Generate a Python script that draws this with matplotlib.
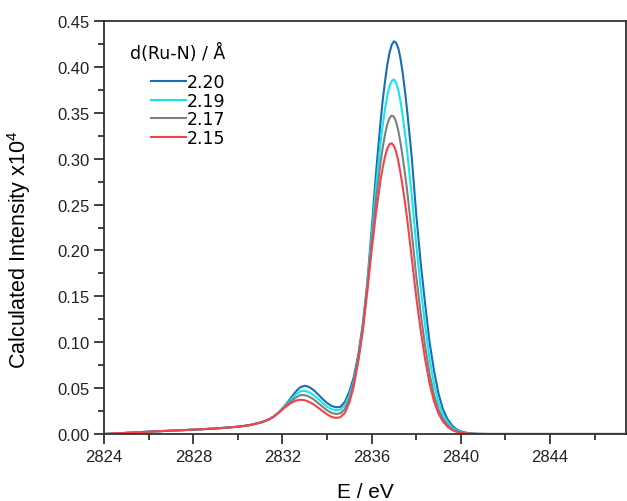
import matplotlib
matplotlib.use('Agg')
import matplotlib.pyplot as plt
from matplotlib.ticker import MultipleLocator, FormatStrFormatter

plt.rcParams['font.family'] = ['Liberation Sans', 'DejaVu Sans']
plt.rcParams['mathtext.fontset'] = 'custom'
plt.rcParams['mathtext.rm'] = 'Liberation Sans'

# energy grid (eV), shared by all four spectra
energy = [2824.0, 2825.0, 2826.0, 2827.0, 2828.0, 2829.0, 2830.0, 2830.5,
          2831.0, 2831.2, 2831.4, 2831.6, 2831.8, 2832.0, 2832.2, 2832.4,
          2832.6, 2832.8, 2833.0, 2833.2, 2833.4, 2833.6, 2833.8, 2834.0,
          2834.2, 2834.4, 2834.6, 2834.8, 2835.0, 2835.2, 2835.4, 2835.6,
          2835.8, 2836.0, 2836.2, 2836.4, 2836.5, 2836.6, 2836.7, 2836.8,
          2836.9, 2837.0, 2837.1, 2837.2, 2837.3, 2837.4, 2837.5, 2837.6,
          2837.8, 2838.0, 2838.2, 2838.4, 2838.6, 2838.8, 2839.0, 2839.2,
          2839.4, 2839.6, 2839.8, 2840.0, 2840.3, 2840.7, 2841.2, 2842.0,
          2844.0, 2847.4]

low = [0.0, 0.0012, 0.0025, 0.0036, 0.0047, 0.0060, 0.0079, 0.0095,
       0.0123, 0.0140, 0.0160, 0.0188]

i_220 = low + [0.0228, 0.0278, 0.0335, 0.0400, 0.0462, 0.0510, 0.0526, 0.0512,
               0.0478, 0.0432, 0.0381, 0.0338, 0.0306, 0.0291, 0.0295, 0.0350,
               0.0460, 0.0620, 0.0860, 0.1190, 0.1630, 0.2220, 0.2850, 0.3400,
               0.3640, 0.3840, 0.4020, 0.4150, 0.4240, 0.4280, 0.4264, 0.4204,
               0.4086, 0.3924, 0.3730, 0.3510, 0.3020, 0.2400, 0.1870, 0.1420,
               0.1000, 0.0690, 0.0440, 0.0270, 0.0164, 0.0095, 0.0052, 0.0028,
               0.0011, 0.0002, 0.0, 0.0, 0.0, 0.0]

i_219 = low + [0.0227, 0.0275, 0.0325, 0.0380, 0.0430, 0.0465, 0.0470, 0.0455,
               0.0424, 0.0383, 0.0338, 0.0298, 0.0270, 0.0259, 0.0266, 0.0310,
               0.0420, 0.0580, 0.0820, 0.1150, 0.1610, 0.2150, 0.2690, 0.3170,
               0.3368, 0.3540, 0.3683, 0.3787, 0.3847, 0.3863, 0.3828, 0.3747,
               0.3620, 0.3459, 0.3273, 0.3070, 0.2600, 0.2073, 0.1597, 0.1180,
               0.0821, 0.0543, 0.0346, 0.0212, 0.0130, 0.0074, 0.0041, 0.0022,
               0.0008, 0.0001, 0.0, 0.0, 0.0, 0.0]

i_217 = low + [0.0226, 0.0272, 0.0316, 0.0360, 0.0397, 0.0423, 0.0424, 0.0407,
               0.0377, 0.0338, 0.0297, 0.0258, 0.0230, 0.0218, 0.0225, 0.0270,
               0.0380, 0.0560, 0.0809, 0.1141, 0.1582, 0.2083, 0.2556, 0.2958,
               0.3122, 0.3263, 0.3371, 0.3440, 0.3471, 0.3457, 0.3404, 0.3303,
               0.3169, 0.3009, 0.2832, 0.2639, 0.2197, 0.1726, 0.1317, 0.0958,
               0.0654, 0.0424, 0.0267, 0.0166, 0.0099, 0.0055, 0.0030, 0.0017,
               0.0006, 0.0001, 0.0, 0.0, 0.0, 0.0]

i_215 = low + [0.0225, 0.0268, 0.0306, 0.0340, 0.0364, 0.0373, 0.0368, 0.0350,
               0.0322, 0.0287, 0.0250, 0.0214, 0.0186, 0.0175, 0.0183, 0.0230,
               0.0340, 0.0520, 0.0791, 0.1117, 0.1536, 0.1993, 0.2414, 0.2764,
               0.2905, 0.3023, 0.3108, 0.3157, 0.3168, 0.3141, 0.3075, 0.2971,
               0.2838, 0.2685, 0.2518, 0.2336, 0.1919, 0.1498, 0.1134, 0.0815,
               0.0552, 0.0356, 0.0222, 0.0138, 0.0081, 0.0045, 0.0024, 0.0013,
               0.0005, 0.0001, 0.0, 0.0, 0.0, 0.0]

labels = ['2.20', '2.19', '2.17', '2.15']
colors = ['#1a6cb5', '#12e6ee', '#7f7f7f', '#f2434b']

fig = plt.figure(figsize=(6.27, 5.02), dpi=100)
ax = fig.add_axes([0.166, 0.1335, 0.832, 0.8225])

for y, lab, col in zip([i_220, i_219, i_217, i_215], labels, colors):
    ax.plot(energy, y, color=col, lw=1.5, label=lab)

ax.set_xlim(2824, 2847.4)
ax.set_ylim(0, 0.45)
ax.xaxis.set_major_locator(MultipleLocator(4))
ax.xaxis.set_minor_locator(MultipleLocator(2))
ax.yaxis.set_major_locator(MultipleLocator(0.05))
ax.yaxis.set_minor_locator(MultipleLocator(0.025))
ax.yaxis.set_major_formatter(FormatStrFormatter('%.2f'))

for s in ax.spines.values():
    s.set_linewidth(1.3)
    s.set_color('#333333')
ax.tick_params(which='major', direction='out', length=7, width=1.3,
               color='#333333', labelsize=12, labelcolor='#222222')
ax.tick_params(which='minor', direction='out', length=4, width=1.3,
               color='#333333')

ax.set_xlabel('E / eV', fontsize=15, labelpad=13)
ax.set_ylabel(r'Calculated Intensity x10$^{4}$', fontsize=15.5)
ax.yaxis.set_label_coords(-0.136, 0.448)

leg = ax.legend(loc='upper left', bbox_to_anchor=(0.05, 0.948), frameon=False,
                title='d(Ru-N) / Å', alignment='right',
                prop={'family': 'DejaVu Sans', 'size': 12.5},
                title_fontproperties={'family': 'DejaVu Sans', 'size': 12.5},
                handlelength=2.0, handletextpad=0.05, labelspacing=0.05,
                borderpad=0, borderaxespad=0)
leg._legend_box.sep = 8

fig.savefig('out.png', dpi=100)
